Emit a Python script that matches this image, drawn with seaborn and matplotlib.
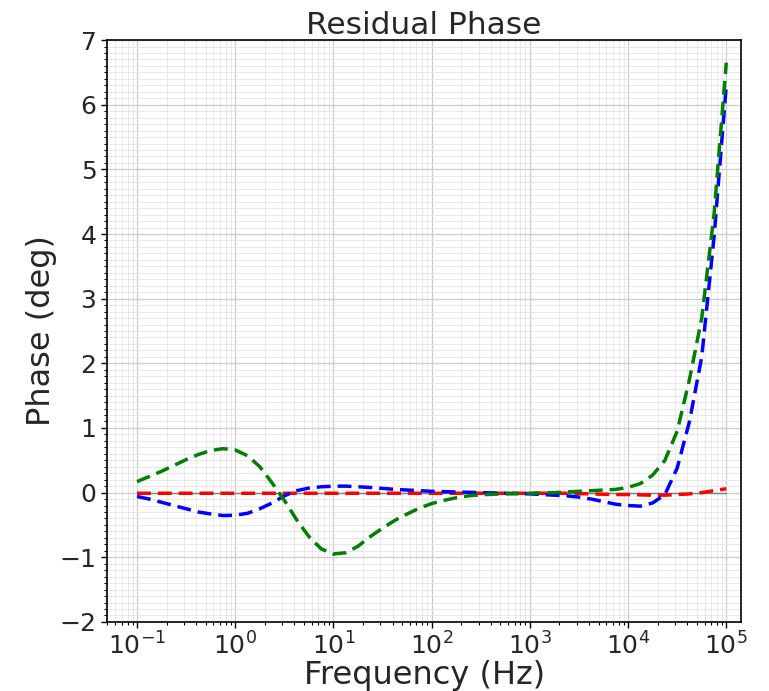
import numpy as np
import pandas as pd
import matplotlib
matplotlib.use("Agg")
import matplotlib.pyplot as plt
import seaborn as sns
from matplotlib.ticker import MultipleLocator, LogLocator, NullFormatter, FixedLocator

# ---- data ----
freq_hz = np.logspace(-1, 5, 49)

phase_green = [0.17, 0.25, 0.33, 0.42, 0.51, 0.59, 0.65, 0.68, 0.66, 0.57,
               0.40, 0.15, -0.12, -0.42, -0.68, -0.87, -0.95, -0.93, -0.83, -0.68,
               -0.55, -0.43, -0.33, -0.24, -0.17, -0.12, -0.08, -0.05, -0.035, -0.025,
               -0.02, -0.015, -0.01, -0.005, 0.0, 0.01, 0.02, 0.03, 0.04, 0.05,
               0.08, 0.14, 0.27, 0.50, 0.95, 1.75, 2.70, 4.30, 6.65]

phase_blue = [-0.06, -0.10, -0.15, -0.20, -0.25, -0.30, -0.33, -0.355, -0.35, -0.32,
              -0.25, -0.16, -0.05, 0.03, 0.07, 0.09, 0.10, 0.10, 0.09, 0.08,
              0.065, 0.05, 0.04, 0.03, 0.02, 0.015, 0.01, 0.005, 0.0, -0.005,
              -0.01, -0.015, -0.02, -0.03, -0.04, -0.05, -0.07, -0.10, -0.14, -0.18,
              -0.20, -0.21, -0.16, -0.03, 0.38, 1.10, 2.10, 3.95, 6.30]

phase_red = [-0.01, -0.01, -0.01, -0.01, -0.01, -0.01, -0.01, -0.01, -0.01, -0.01,
             -0.01, -0.01, -0.01, -0.01, -0.01, -0.01, -0.01, -0.01, -0.01, -0.01,
             -0.01, -0.01, -0.01, -0.01, -0.01, -0.01, -0.01, -0.01, -0.01, -0.01,
             -0.01, -0.01, -0.01, -0.01, -0.01, -0.01, -0.015, -0.02, -0.025, -0.03,
             -0.03, -0.035, -0.04, -0.04, -0.03, -0.02, 0.0, 0.03, 0.06]

phase_ref = [0.0] * 49

x_ticks = [1e-1, 1e0, 1e1, 1e2, 1e3, 1e4, 1e5]
y_ticks = [-2, -1, 0, 1, 2, 3, 4, 5, 6, 7]

# ---- plot ----
sns.set_style("white")
plt.rcParams['font.family'] = ['DejaVu Sans']

fig = plt.figure(figsize=(7.69, 6.91), dpi=100)
ax = fig.add_axes([0.139, 0.100, 0.825, 0.842])

df = pd.DataFrame({"f": freq_hz, "g": phase_green, "b": phase_blue,
                   "r": phase_red, "k": phase_ref})

dash = (4.0, 2.0)
sns.lineplot(data=df, x="f", y="k", ax=ax, color="gray", lw=1.0, zorder=2)
sns.lineplot(data=df, x="f", y="r", ax=ax, color="red", lw=2.5, dashes=dash, zorder=3)
sns.lineplot(data=df, x="f", y="b", ax=ax, color="blue", lw=2.5, dashes=dash, zorder=4)
sns.lineplot(data=df, x="f", y="g", ax=ax, color="green", lw=2.5, dashes=dash, zorder=5)

ax.set_xscale("log")
ax.set_xlim(10 ** -1.307, 10 ** 5.153)
ax.set_ylim(-2, 7)
ax.set_yticks(y_ticks)
ax.yaxis.set_minor_locator(MultipleLocator(0.1))
ax.xaxis.set_major_locator(FixedLocator(x_ticks))
ax.xaxis.set_minor_locator(LogLocator(base=10, subs=np.arange(2, 10), numticks=100))
ax.xaxis.set_minor_formatter(NullFormatter())

ax.grid(True, which="major", color="#cccccc", lw=0.9)
ax.grid(True, which="minor", color="#e4e4e4", lw=0.6)
ax.set_axisbelow(True)

ax.tick_params(axis="both", which="major", direction="out", length=4, width=1,
               labelsize=18, left=True, bottom=True, color="black")
ax.tick_params(axis="both", which="minor", direction="out", length=2, width=0.8,
               left=True, bottom=True, color="black")
for s in ax.spines.values():
    s.set_color("black")
    s.set_linewidth(1.2)

ax.set_title("Residual Phase", fontsize=22.5, pad=4)
ax.set_xlabel("Frequency (Hz)", fontsize=23, labelpad=0)
ax.set_ylabel("Phase (deg)", fontsize=23, labelpad=2)

fig.savefig("out.png", dpi=100)
